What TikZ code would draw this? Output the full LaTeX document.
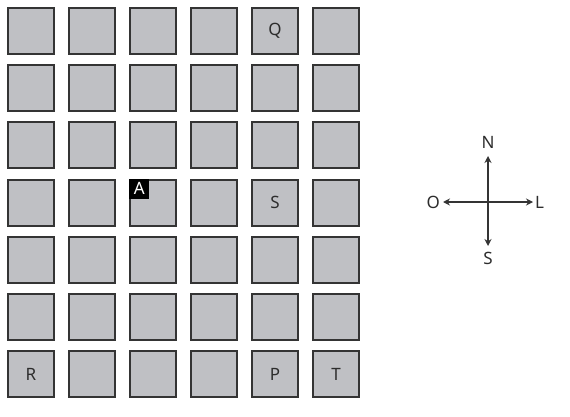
\documentclass[tikz,border=0pt]{standalone}
\usepackage{fontspec}
\setmainfont{Noto Sans}
\usetikzlibrary{positioning,arrows.meta}
\definecolor{tilegray}{RGB}{191,192,196}
\definecolor{tileedge}{RGB}{52,52,52}
\definecolor{labgray}{RGB}{45,45,45}
\tikzset{
  >={Stealth[length=7pt,width=7pt]},
  tile/.style={rectangle,draw=tileedge,fill=tilegray,line width=2pt,
    minimum size=46pt,inner sep=0pt},
  tilelbl/.style={font=\fontsize{17}{17}\selectfont,text=labgray,inner sep=0pt},
  tag/.style={rectangle,fill=black,text=white,minimum size=20pt,
    inner sep=0pt,font=\fontsize{17}{17}\selectfont},
  axis/.style={<->,line width=1.8pt,tileedge},
  dirlbl/.style={inner sep=0pt,font=\fontsize{17}{17}\selectfont,text=labgray},
}
\begin{document}
\begin{tikzpicture}[x=1pt,y=1pt]
  \useasboundingbox (0,0) rectangle (570,416);
  % grid of tiles, row 0 at the top
  \foreach \r in {0,...,6} {
    \foreach \c in {0,...,5} {
      \node[tile] (t\r\c) at ({31+61*\c},{385-57.2*\r}) {};
    }
  }
  \foreach \r/\c/\t in {0/4/Q,3/4/S,6/0/R,6/4/P,6/5/T} {
    \node[tilelbl] (l\t) at (t\r\c) {\t};
  }
  \node[tag,anchor=north west] (tagA) at (t32.north west) {A};
  % compass
  \coordinate (cc) at (488,214);
  \coordinate (tN) at (488,260);
  \coordinate (tS) at (488,170);
  \coordinate (tO) at (443,214);
  \coordinate (tL) at (533,214);
  \draw[axis] (tS) -- (tN);
  \draw[axis] (tO) -- (tL);
  \node[dirlbl,above=7pt of tN] (lN) {N};
  \node[dirlbl,below=6pt of tS] (lS) {S};
  \node[dirlbl,left=3pt of tO] (lO) {O};
  \node[dirlbl,right=2pt of tL] (lL) {L};
\end{tikzpicture}
\end{document}
